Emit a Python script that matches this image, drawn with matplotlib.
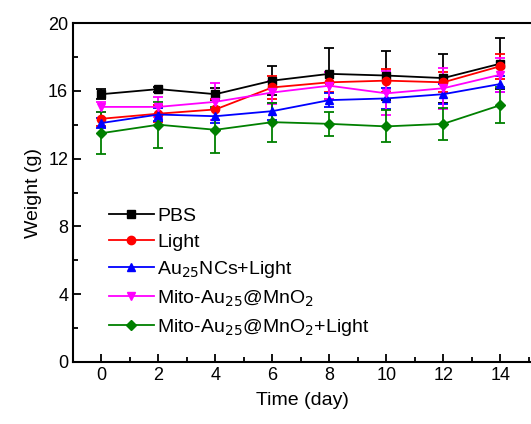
import matplotlib.pyplot as plt
from matplotlib.lines import Line2D
from matplotlib.ticker import MultipleLocator

plt.rcParams['font.family'] = ['Liberation Sans', 'DejaVu Sans']

# Dados
dias = [0, 2, 4, 6, 8, 10, 12, 14]

pbs = [15.8, 16.1, 15.8, 16.6, 17.0, 16.9, 16.75, 17.6]
pbs_err = [0.3, 0.15, 0.35, 0.85, 1.5, 1.45, 1.45, 1.5]

light = [14.35, 14.65, 14.9, 16.2, 16.5, 16.6, 16.5, 17.45]
light_err = [0.4, 0.5, 0.6, 0.7, 0.6, 0.7, 0.6, 0.75]

au = [14.1, 14.6, 14.5, 14.8, 15.45, 15.55, 15.8, 16.4]
au_err = [0.3, 0.4, 0.4, 0.5, 0.4, 0.6, 0.6, 0.5]

mito = [15.05, 15.05, 15.35, 15.9, 16.3, 15.85, 16.15, 16.95]
mito_err = [0.3, 0.6, 1.1, 0.7, 0.8, 1.3, 1.2, 1.0]

mito_light = [13.5, 14.0, 13.7, 14.15, 14.05, 13.9, 14.05, 15.15]
mito_light_err = [1.25, 1.35, 1.35, 1.15, 0.7, 0.95, 0.95, 1.05]

series = [
    (pbs, pbs_err, 'black', 's', 'PBS'),
    (light, light_err, 'red', 'o', 'Light'),
    (au, au_err, 'blue', '^', r'Au$_{25}$NCs+Light'),
    (mito, mito_err, 'magenta', 'v', r'Mito-Au$_{25}$@MnO$_2$'),
    (mito_light, mito_light_err, 'green', 'D', r'Mito-Au$_{25}$@MnO$_2$+Light'),
]

fig = plt.figure(figsize=(5.31, 4.24), dpi=100)
ax = fig.add_axes([73/531, 1 - 362/424, 1 - 73/531, (362 - 23)/424])

handles = []
for y, e, cor, mk, nome in series:
    ms = 6 if mk != 'D' else 5
    ax.errorbar(dias, y, yerr=e, color=cor, marker=mk, markersize=ms,
                linewidth=1.3, elinewidth=1.3, capsize=3.5, capthick=1.3)
    handles.append(Line2D([], [], color=cor, marker=mk, markersize=ms, linewidth=1.3, label=nome))

ax.set_xlim(-1, 15.08)
ax.set_ylim(0, 20)
ax.set_xticks(dias)
ax.set_yticks([0, 4, 8, 12, 16, 20])
ax.xaxis.set_minor_locator(MultipleLocator(1))
ax.yaxis.set_minor_locator(MultipleLocator(2))
ax.tick_params(which='both', direction='in', labelsize=13, width=1.3)
ax.tick_params(which='major', length=6)
ax.tick_params(which='minor', length=3.5)
for s in ax.spines.values():
    s.set_linewidth(1.5)
ax.spines['right'].set_visible(False)

ax.set_xlabel('Time (day)', fontsize=14, labelpad=6)
ax.set_ylabel('Weight (g)', fontsize=14, labelpad=4)

ax.legend(handles=handles, loc='lower left', bbox_to_anchor=(0.04, 0.02), frameon=False, fontsize=14,
          handlelength=2.3, handletextpad=0.2, labelspacing=0.42, borderaxespad=0.5)

fig.savefig('out.png', dpi=100)
